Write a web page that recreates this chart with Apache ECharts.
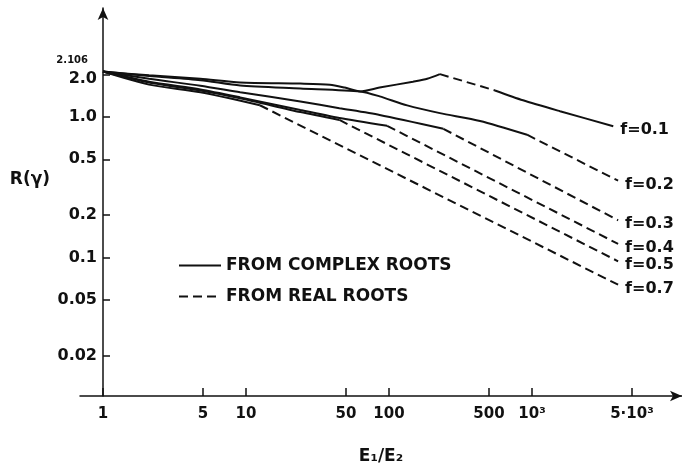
<!DOCTYPE html>
<html><head><meta charset="utf-8">
<script src="https://cdn.jsdelivr.net/npm/echarts@6/dist/echarts.min.js"></script>
<style>html,body{margin:0;padding:0;background:#fff}#c{width:682px;height:470px}</style>
</head><body><div id="c"></div>
<script>
// ---- data ----
const xTicks = [1, 5, 10, 50, 100, 500, 1000, 5000];
const xTickLabels = ['1', '5', '10', '50', '100', '500', '10³', '5·10³'];
const yTicks = [2.0, 1.0, 0.5, 0.2, 0.1, 0.05, 0.02];
const yTickLabels = ['2.0', '1.0', '0.5', '0.2', '0.1', '0.05', '0.02'];
const yStartValue = 2.106;
const yStartLabel = '2.106';

// f = 0.1
const f01Complex1 = [[1,2.106],[2.1,1.98],[4.8,1.87],[9.1,1.76],[24,1.73],[38.6,1.70],[49,1.62],[63,1.52],[86,1.62],[147,1.785],[185,1.87],[227,2.02]];
const f01Real = [[227,2.02],[551,1.545]];
const f01Complex2 = [[551,1.545],[865,1.315],[1570,1.10],[3700,0.86]];
// f = 0.2
const f02Complex = [[1,2.106],[2.1,1.96],[4.8,1.83],[9.1,1.674],[24,1.595],[63,1.52],[86,1.403],[134,1.21],[227,1.066],[433,0.938],[923,0.748]];
const f02Real = [[923,0.748],[4000,0.352]];
// f = 0.3
const f03Complex = [[1,2.106],[2.1,1.87],[4.8,1.67],[9.1,1.50],[24,1.29],[45,1.156],[86,1.033],[240,0.824]];
const f03Real = [[240,0.824],[4000,0.184]];
// f = 0.4
const f04Complex = [[1,2.106],[2.1,1.78],[4.8,1.57],[9.1,1.38],[24,1.12],[45,0.984],[97,0.865]];
const f04Real = [[97,0.865],[4000,0.125]];
// f = 0.5
const f05Complex = [[1,2.106],[2.1,1.76],[4.8,1.545],[9.1,1.36],[24,1.084],[45,0.953]];
const f05Real = [[45,0.953],[4000,0.094]];
// f = 0.7
const f07Complex = [[1,2.106],[2.1,1.70],[4.8,1.50],[12.5,1.213]];
const f07Real = [[12.5,1.213],[4000,0.064]];

const COMPLEX = 'FROM COMPLEX ROOTS';
const REAL = 'FROM REAL ROOTS';
const FONT = 'DejaVu Sans';
const INK = '#111';

function seg(data, real, label) {
  return {
    type: 'line', name: real ? REAL : COMPLEX, data: data,
    symbol: 'none', smooth: real ? false : 0.25, silent: true, animation: false,
    lineStyle: { color: INK, width: 2, type: real ? [9, 5] : 'solid' },
    itemStyle: { color: INK },
    endLabel: label ? { show: true, formatter: label, color: INK, fontSize: 16, fontWeight: 'bold', fontFamily: FONT, distance: 7, offset: [0, 4] } : { show: false }
  };
}

function nearest(v, ticks, labels) {
  let best = 0, bd = Infinity;
  ticks.forEach((t, i) => { const d = Math.abs(Math.log10(t) - Math.log10(v)); if (d < bd) { bd = d; best = i; } });
  return labels[best];
}

const yLabelValues = [yStartValue].concat(yTicks);
const yLabelTexts = [yStartLabel].concat(yTickLabels);

const chart = echarts.init(document.getElementById('c'), null, { renderer: 'canvas' });
chart.setOption({
  backgroundColor: '#fff',
  animation: false,
  textStyle: { fontFamily: FONT, color: INK },
  grid: { left: 80, right: 0, top: 8, bottom: 67, containLabel: false },
  legend: {
    data: [COMPLEX, REAL], orient: 'vertical', left: 173, top: 252,
    itemWidth: 42, itemHeight: 14, itemGap: 14, selectedMode: false,
    itemStyle: { opacity: 0, borderWidth: 0 },
    textStyle: { fontSize: 17, fontWeight: 'bold', color: INK, fontFamily: FONT }
  },
  xAxis: {
    type: 'log', logBase: 10, min: 0.6905, max: 11190,
    name: 'E₁/E₂', nameLocation: 'middle', nameGap: 52,
    nameTextStyle: { fontSize: 17, fontWeight: 'bold', color: INK, fontFamily: FONT },
    axisLine: { show: true, onZero: false, symbol: ['none', 'arrow'], symbolSize: [8, 12], lineStyle: { color: INK, width: 1.5 } },
    axisTick: { show: true, inside: true, length: 8, customValues: xTicks, lineStyle: { color: INK, width: 1.5 } },
    axisLabel: { customValues: xTicks, margin: 11, fontSize: 15, fontWeight: 'bold', color: INK, fontFamily: FONT,
      formatter: v => nearest(v, xTicks, xTickLabels) },
    splitLine: { show: false }, minorTick: { show: false }, minorSplitLine: { show: false }
  },
  yAxis: {
    type: 'log', logBase: 10, min: 0.01033, max: 5.97, offset: -23,
    name: '{n|R(γ)}', nameLocation: 'middle', nameRotate: 0, nameGap: 53,
    nameTextStyle: { fontSize: 17, fontWeight: 'bold', color: INK, fontFamily: FONT,
      rich: { n: { fontSize: 17, fontWeight: 'bold', color: INK, fontFamily: FONT, padding: [0, 0, 44, 0] } } },
    axisLine: { show: true, onZero: false, symbol: ['none', 'arrow'], symbolSize: [8, 12], lineStyle: { color: INK, width: 1.5 } },
    axisTick: { show: true, inside: true, length: 7, customValues: yTicks, lineStyle: { color: INK, width: 1.5 } },
    axisLabel: { customValues: yLabelValues, margin: 6, fontSize: 16, fontWeight: 'bold', color: INK, fontFamily: FONT,
      formatter: v => {
        const t = nearest(v, yLabelValues, yLabelTexts);
        if (t === yStartLabel) return '{s|' + t + '}';
        if (t === '2.0') return '{d|' + t + '}';
        return t;
      },
      rich: {
        s: { fontSize: 10, fontWeight: 'bold', fontFamily: FONT, color: INK, padding: [0, 9, 22, 0] },
        d: { fontSize: 16, fontWeight: 'bold', fontFamily: FONT, color: INK, padding: [8, 0, 0, 0] }
      } },
    splitLine: { show: false }, minorTick: { show: false }, minorSplitLine: { show: false }
  },
  series: [
    seg(f01Complex1, false), seg(f01Real, true), seg(f01Complex2, false, 'f=0.1'),
    seg(f02Complex, false), seg(f02Real, true, 'f=0.2'),
    seg(f03Complex, false), seg(f03Real, true, 'f=0.3'),
    seg(f04Complex, false), seg(f04Real, true, 'f=0.4'),
    seg(f05Complex, false), seg(f05Real, true, 'f=0.5'),
    seg(f07Complex, false), seg(f07Real, true, 'f=0.7')
  ]
});
</script>
</body></html>
